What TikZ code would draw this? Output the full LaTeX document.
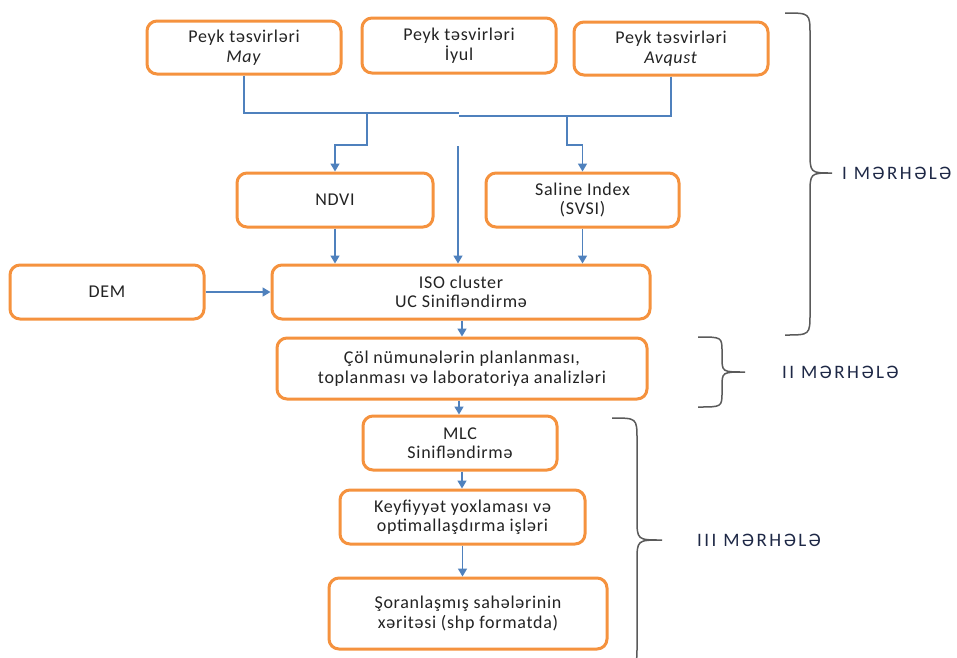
\documentclass[tikz,border=0pt]{standalone}
\usepackage{fontspec}
\setmainfont{Carlito}[LetterSpace=4]
\newfontfamily\stagefont[LetterSpace=13]{Carlito}
\usetikzlibrary{arrows.meta}
\definecolor{boxorange}{RGB}{245,146,62}
\definecolor{linkblue}{RGB}{79,129,189}
\definecolor{txtgray}{RGB}{35,35,35}
\definecolor{stagecol}{RGB}{30,40,70}
\definecolor{bracegray}{RGB}{90,90,90}
\begin{document}
\begin{tikzpicture}[x=1pt,y=-1pt,
  box/.style={draw=boxorange, line width=3pt, rounded corners=10pt, fill=white,
    align=center, inner sep=0pt, text=txtgray, font=\fontsize{18}{19.5}\selectfont},
  link/.style={draw=linkblue, line width=1.6pt},
  arr/.style={link, -{Triangle[length=8pt,width=9pt]}},
  bracestyle/.style={draw=bracegray, line width=1.5pt},
  stage/.style={anchor=west, text=stagecol, inner sep=0pt,
    font=\stagefont\fontsize{19}{20}\selectfont}]
\useasboundingbox (0,0) rectangle (957,657);
\fill[white] (0,0) rectangle (957,657);

% boxes
\node[box, minimum width=194pt, minimum height=53pt] (may) at (244,47.5) {Peyk təsvirləri\\\textit{May}};
\node[box, minimum width=194pt, minimum height=55pt] (iyul) at (459,45.5) {Peyk təsvirləri\\İyul};
\node[box, minimum width=194pt, minimum height=53pt] (avq) at (671,48.5) {Peyk təsvirləri\\\textit{Avqust}};
\node[box, minimum width=196pt, minimum height=54pt] (ndvi) at (335,200) {NDVI};
\node[box, minimum width=193pt, minimum height=54pt] (sal) at (582.5,200) {Saline Index\\(SVSI)};
\node[box, minimum width=194pt, minimum height=54pt] (dem) at (107,292) {DEM};
\node[box, minimum width=378pt, minimum height=54pt] (iso) at (461,292) {ISO cluster\\UC Sinifləndirmə};
\node[box, minimum width=370pt, minimum height=61pt] (col) at (462,368.5) {Çöl nümunələrin planlanması,\\toplanması və laboratoriya analizləri};
\node[box, minimum width=194pt, minimum height=54pt] (mlc) at (460,443) {MLC\\Sinifləndirmə};
\node[box, minimum width=245pt, minimum height=54pt] (keyf) at (462.5,517) {Keyfiyyət yoxlaması və\\optimallaşdırma işləri};
\node[box, minimum width=278pt, minimum height=71pt] (sor) at (468,613.5) {Şoranlaşmış sahələrinin\\xəritəsi (shp formatda)};

% connectors
\coordinate (j1) at (459,113);
\coordinate (j2) at (459,116);
\coordinate (b1) at (367,113);
\coordinate (b2) at (567,116);
\coordinate (mid) at (458,146);
\draw[link] (may.south) |- (j1);
\draw[link] (avq.south) |- (j2);
\draw[arr] (b1) -- ++(0,32) -| (ndvi.north);
\draw[arr] (b2) -- ++(0,29) -| (sal.north);
\draw[arr] (mid) -- (mid |- iso.north);
\draw[arr] (ndvi.south) -- (ndvi.south |- iso.north);
\draw[arr] (sal.south) -- (sal.south |- iso.north);
\draw[arr] (dem.east) -- (iso.west);
\draw[arr] (iso.south -| col.north) -- (col.north);
\draw[arr] ([xshift=-3pt]col.south) -- ([xshift=-3pt]col.south |- mlc.north);
\draw[arr] ([xshift=2pt]mlc.south) -- ([xshift=2pt]mlc.south |- keyf.north);
\draw[arr] (keyf.south) -- (keyf.south |- sor.north);

% braces
\draw[bracestyle] (785,13) .. controls (810,13) .. (810,35) -- (810,151)
  .. controls (810,173) .. (832,173) .. controls (810,173) .. (810,195)
  -- (810,313) .. controls (810,335) .. (785,335);
\draw[bracestyle] (698,337) .. controls (722,337) .. (722,352) -- (722,357)
  .. controls (722,372) .. (745,372) .. controls (722,372) .. (722,387)
  -- (722,392) .. controls (722,407) .. (698,407);
\draw[bracestyle] (612,418) .. controls (637,418) .. (637,440) -- (637,518)
  .. controls (637,540) .. (662,540) .. controls (637,540) .. (637,562)
  -- (637,646) .. controls (637,668) .. (612,668);

% stage labels
\node[stage] (s1) at (842,173) {I MƏRHƏLƏ};
\node[stage] (s2) at (782,372) {II MƏRHƏLƏ};
\node[stage] (s3) at (697,540) {III MƏRHƏLƏ};
\end{tikzpicture}
\end{document}
